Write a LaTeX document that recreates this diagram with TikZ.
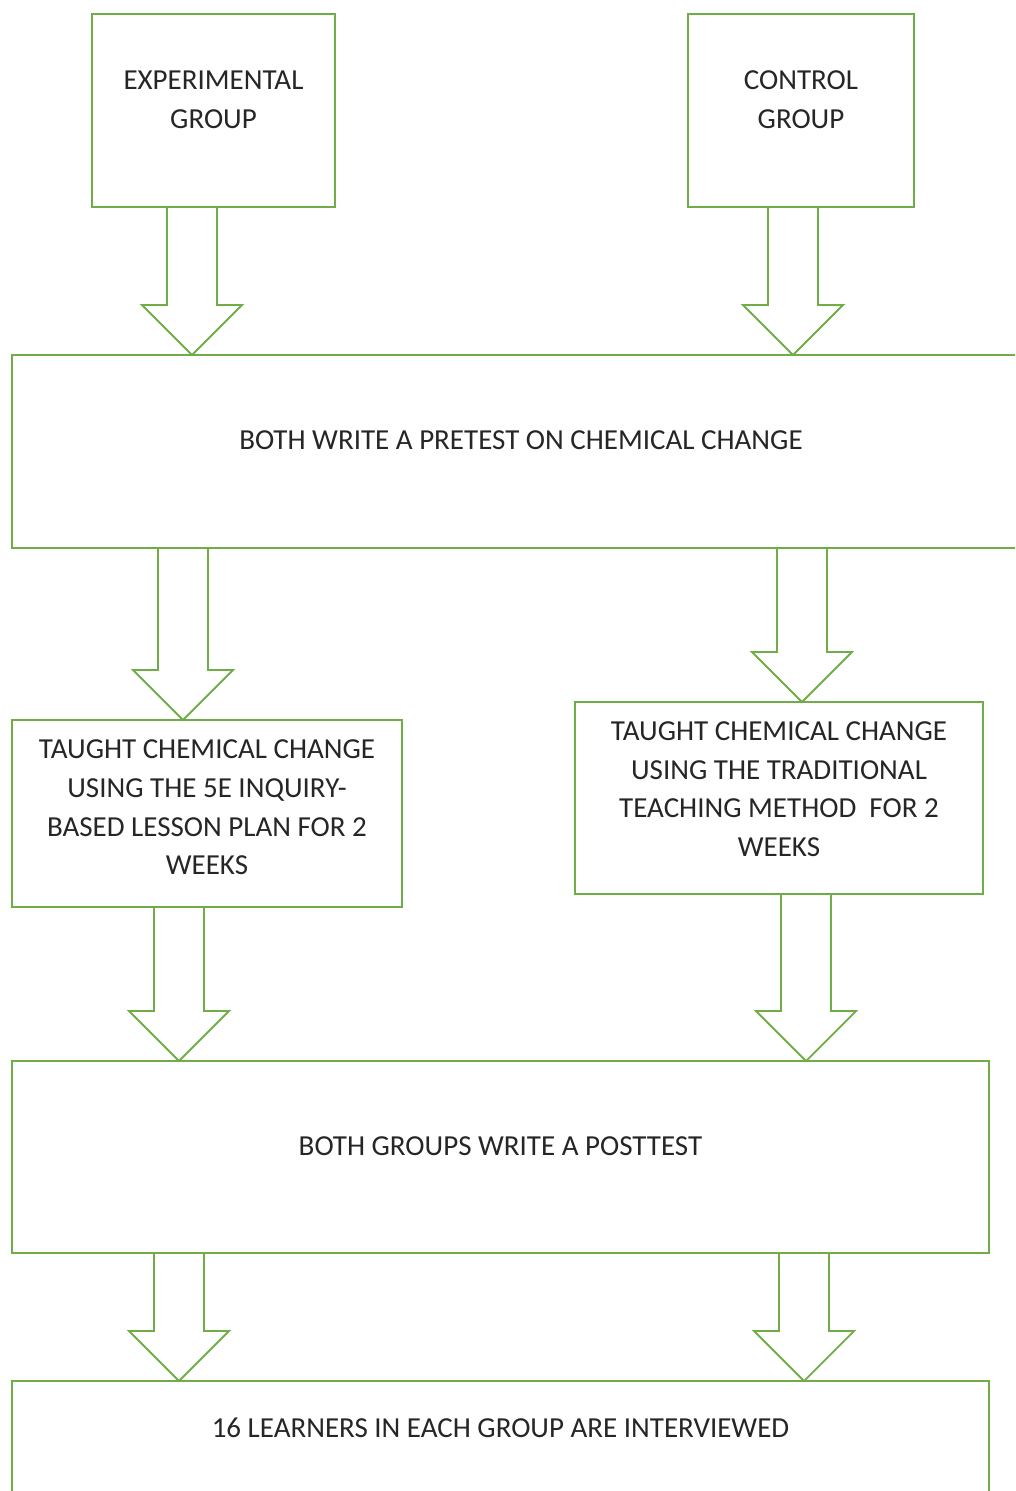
\documentclass[tikz,border=0pt]{standalone}
\usepackage{fontspec}
\setmainfont{Carlito}
\usepackage{xcolor}
\usepackage{tikz}
\usetikzlibrary{calc}

\definecolor{boxgreen}{RGB}{112,173,71}
\tikzset{
    box/.style={draw=boxgreen, line width=1.8pt, fill=white, align=center,
        inner sep=0pt, outer sep=0pt, text=black!85},
    fatarr/.style={draw=boxgreen, line width=1.8pt, line join=miter},
}
% hollow block arrow at x=#1 from node #2 down to node #3
\newcommand{\fatarrow}[3]{%
    \draw[fatarr] let \p1=(#1,0 |- #2.south), \p2=(#1,0 |- #3.north) in
        (\x1-25pt,\y1) -- (\x1-25pt,\y2+50pt) -- (\x1-50pt,\y2+50pt) -- (\x1,\y2)
        -- (\x1+50pt,\y2+50pt) -- (\x1+25pt,\y2+50pt) -- (\x1+25pt,\y1);
}

\begin{document}
\begin{tikzpicture}[x=1pt, y=-1pt, font=\fontsize{29}{38.7}\selectfont]
    \useasboundingbox (0,0) rectangle (1015,1491);
    \clip (0,0) rectangle (1015,1491);

    \node[box, minimum width=243pt, minimum height=193pt, text depth=22pt] (exp) at (213.5,110.5) {EXPERIMENTAL\\GROUP};
    \node[box, minimum width=226pt, minimum height=193pt, text depth=22pt] (ctrl) at (801,110.5) {CONTROL\\GROUP};
    \node[box, minimum width=1018pt, minimum height=193pt, text depth=22pt] (pre) at (521,451.5) {BOTH WRITE A PRETEST ON CHEMICAL CHANGE};
    \node[box, minimum width=390pt, minimum height=187pt, text depth=12pt] (tleft) at (207,813.5)
        {TAUGHT CHEMICAL CHANGE\\USING THE 5E INQUIRY-\\BASED LESSON PLAN FOR 2\\WEEKS};
    \node[box, minimum width=408pt, minimum height=192pt, text depth=18pt] (tright) at (779,798)
        {TAUGHT CHEMICAL CHANGE\\USING THE TRADITIONAL\\TEACHING METHOD\ \ FOR 2\\WEEKS};
    \node[box, minimum width=977pt, minimum height=192pt, text depth=22pt] (post) at (500.5,1157) {BOTH GROUPS WRITE A POSTTEST};
    \node[box, minimum width=977pt, minimum height=193pt, text depth=100pt, anchor=north] (intv) at (500.5,1381) {16 LEARNERS IN EACH GROUP ARE INTERVIEWED};

    \fatarrow{192}{exp}{pre}
    \fatarrow{793}{ctrl}{pre}
    \fatarrow{183}{pre}{tleft}
    \fatarrow{802}{pre}{tright}
    \fatarrow{179}{tleft}{post}
    \fatarrow{806}{tright}{post}
    \fatarrow{179}{post}{intv}
    \fatarrow{804}{post}{intv}
\end{tikzpicture}
\end{document}
